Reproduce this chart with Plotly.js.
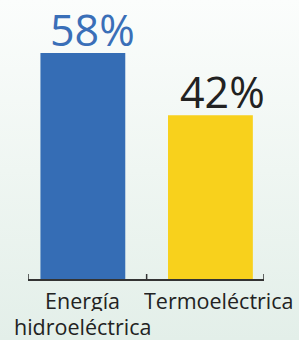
<!DOCTYPE html>
<html>
<head>
<meta charset="utf-8">
<script src="https://cdn.plot.ly/plotly-3.0.1.min.js"></script>
<style>
html,body{margin:0;padding:0;}
body{width:299px;height:340px;background:linear-gradient(to bottom,#fbfdfc 0%,#eff6f2 50%,#e3efe9 100%);}
#chart{width:299px;height:340px;}
</style>
</head>
<body>
<div id="chart"></div>
<script>
var categories = ['Energía<br>hidroeléctrica', 'Termoeléctrica'];
var values = [58, 42];
var valueLabels = ['58%', '42%'];
var barColors = ['#356db5', '#f8d11c'];
var valueLabelColors = ['#3a6fb8', '#222222'];
var positions = [0, 1];
var tickPositions = [-0.43, 0.5, 1.42];

var trace = {
  type: 'bar',
  x: positions,
  y: values,
  width: 0.665,
  marker: {color: barColors, line: {width: 0}},
  hoverinfo: 'none'
};

var annotations = [];
positions.forEach(function(p, i){
  annotations.push({
    x: p, y: values[i], xref: 'x', yref: 'y',
    text: valueLabels[i], showarrow: false,
    xanchor: 'center', yanchor: 'bottom',
    xshift: i === 0 ? 10 : 12, yshift: -8,
    font: {family: 'Open Sans, sans-serif', size: 43, color: valueLabelColors[i]}
  });
  categories[i].split('<br>').forEach(function(line, k){
    annotations.push({
      x: p, y: 0, xref: 'x', yref: 'paper',
      text: line, showarrow: false,
      xanchor: 'center', yanchor: 'top',
      height: 22, valign: 'middle', borderpad: 0,
      xshift: i === 0 ? 0 : 9, yshift: -9 - 26 * k,
      font: {family: 'Open Sans, sans-serif', size: 21.5, color: '#222222'}
    });
  });
});

var shapes = tickPositions.map(function(t){
  return {
    type: 'line', xref: 'x', yref: 'y',
    x0: t, x1: t, ysizemode: 'pixel', yanchor: 0, y0: 0, y1: 5,
    line: {color: '#333333', width: 1.5}
  };
});

var layout = {
  width: 299, height: 340,
  margin: {l: 28, r: 35, t: 0, b: 61},
  paper_bgcolor: 'rgba(0,0,0,0)',
  plot_bgcolor: 'rgba(0,0,0,0)',
  showlegend: false,
  xaxis: {
    type: 'linear', range: [-0.43, 1.42],
    showgrid: false, zeroline: false,
    showline: true, linecolor: '#333333', linewidth: 1.5,
    ticks: '', showticklabels: false
  },
  yaxis: {
    range: [0, 71.6], visible: false, showgrid: false, zeroline: false
  },
  shapes: shapes,
  annotations: annotations
};

Plotly.newPlot('chart', [trace], layout, {displayModeBar: false, staticPlot: true});
</script>
</body>
</html>
